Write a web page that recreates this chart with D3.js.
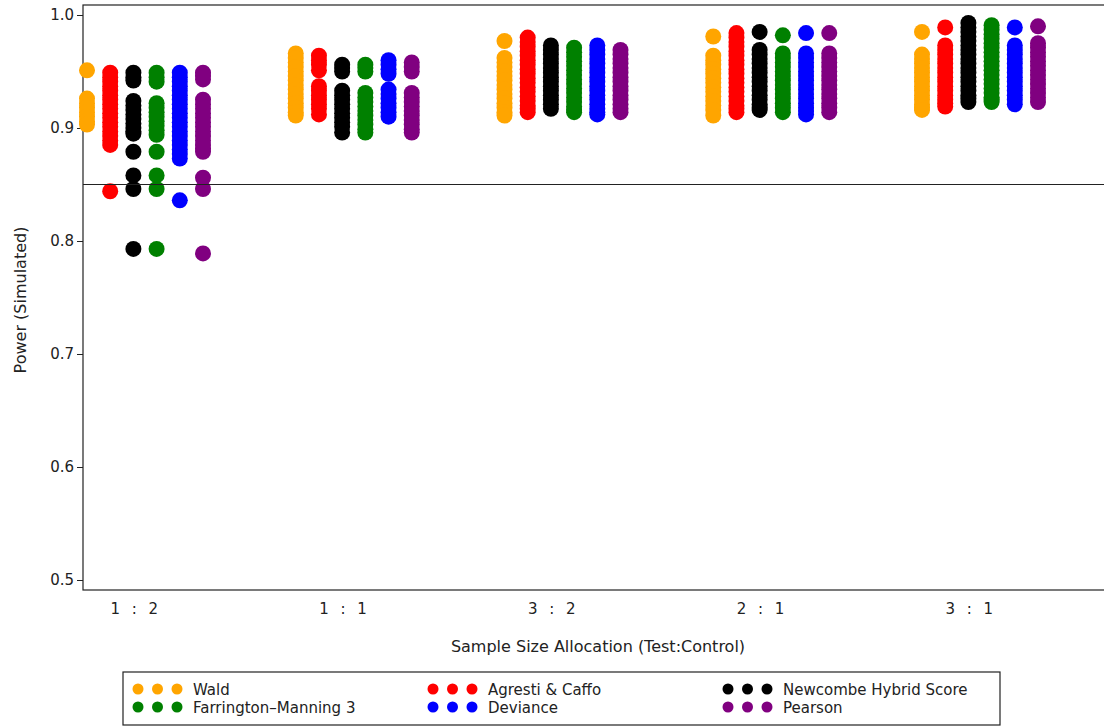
<!DOCTYPE html>
<html>
<head>
<meta charset="utf-8">
<script src="https://cdn.jsdelivr.net/npm/d3@7.9.0/dist/d3.min.js"></script>
<style>
  body { margin: 0; background: #fff; }
  svg { display: block; font-family: "DejaVu Sans", sans-serif; }
  text { fill: #222; }
</style>
</head>
<body>
<svg id="chart" width="1104" height="727"></svg>
<script>
// categories
const allocations = ['1 : 2', '1 : 1', '3 : 2', '2 : 1', '3 : 1'];
const methods = ['Wald', 'Agresti & Caffo', 'Newcombe Hybrid Score', 'Farrington–Manning 3', 'Deviance', 'Pearson'];
const colors = ['#FFA500', '#FF0000', '#000000', '#008000', '#0000FF', '#800080'];
const yTicks = [0.5, 0.6, 0.7, 0.8, 0.9, 1.0];
const target = 0.85;

// simulated power, one list per allocation
const wald = [
  [0.951, 0.926, 0.922, 0.918, 0.914, 0.910, 0.906, 0.903],
  [0.966, 0.962, 0.958, 0.954, 0.950, 0.946, 0.942, 0.938, 0.934, 0.930, 0.926, 0.922, 0.918, 0.914, 0.911],
  [0.977, 0.962, 0.958, 0.954, 0.950, 0.946, 0.942, 0.938, 0.934, 0.930, 0.926, 0.922, 0.918, 0.914, 0.911],
  [0.981, 0.964, 0.960, 0.956, 0.952, 0.948, 0.944, 0.940, 0.936, 0.932, 0.928, 0.924, 0.920, 0.916, 0.911],
  [0.985, 0.965, 0.961, 0.957, 0.953, 0.949, 0.945, 0.941, 0.937, 0.933, 0.929, 0.925, 0.921, 0.918, 0.916]
];
const agresti = [
  [0.949, 0.945, 0.941, 0.937, 0.933, 0.929, 0.925, 0.921, 0.917, 0.913, 0.909, 0.905, 0.901, 0.897, 0.893, 0.889, 0.885, 0.844],
  [0.964, 0.960, 0.956, 0.951, 0.937, 0.933, 0.929, 0.925, 0.921, 0.917, 0.912],
  [0.980, 0.976, 0.972, 0.968, 0.964, 0.960, 0.956, 0.952, 0.948, 0.944, 0.940, 0.936, 0.932, 0.928, 0.924, 0.920, 0.917, 0.914],
  [0.984, 0.980, 0.976, 0.972, 0.968, 0.964, 0.960, 0.956, 0.952, 0.948, 0.944, 0.940, 0.936, 0.932, 0.928, 0.924, 0.920, 0.917, 0.914],
  [0.989, 0.973, 0.969, 0.965, 0.961, 0.957, 0.953, 0.949, 0.945, 0.941, 0.937, 0.933, 0.929, 0.925, 0.922, 0.919]
];
const newcombe = [
  [0.949, 0.945, 0.942, 0.924, 0.920, 0.916, 0.912, 0.908, 0.904, 0.900, 0.897, 0.895, 0.879, 0.858, 0.846, 0.793],
  [0.956, 0.953, 0.950, 0.933, 0.929, 0.925, 0.921, 0.917, 0.913, 0.909, 0.905, 0.901, 0.896],
  [0.973, 0.969, 0.965, 0.961, 0.957, 0.953, 0.949, 0.945, 0.941, 0.937, 0.933, 0.929, 0.925, 0.921, 0.917],
  [0.985, 0.969, 0.965, 0.961, 0.957, 0.953, 0.949, 0.945, 0.941, 0.937, 0.933, 0.929, 0.925, 0.921, 0.918, 0.916],
  [0.993, 0.989, 0.985, 0.981, 0.977, 0.973, 0.969, 0.965, 0.961, 0.957, 0.953, 0.949, 0.945, 0.941, 0.937, 0.933, 0.929, 0.926, 0.923]
];
const farrington = [
  [0.949, 0.945, 0.941, 0.922, 0.918, 0.914, 0.910, 0.906, 0.902, 0.898, 0.894, 0.879, 0.858, 0.846, 0.793],
  [0.956, 0.953, 0.950, 0.931, 0.927, 0.923, 0.919, 0.915, 0.911, 0.907, 0.903, 0.899, 0.896],
  [0.971, 0.967, 0.963, 0.959, 0.955, 0.951, 0.947, 0.943, 0.939, 0.935, 0.931, 0.927, 0.923, 0.919, 0.916, 0.914],
  [0.982, 0.966, 0.962, 0.958, 0.954, 0.950, 0.946, 0.942, 0.938, 0.934, 0.930, 0.926, 0.922, 0.918, 0.914],
  [0.991, 0.987, 0.983, 0.979, 0.975, 0.971, 0.967, 0.963, 0.959, 0.955, 0.951, 0.947, 0.943, 0.939, 0.935, 0.931, 0.927, 0.925, 0.923]
];
const deviance = [
  [0.949, 0.945, 0.941, 0.937, 0.933, 0.929, 0.925, 0.921, 0.917, 0.913, 0.909, 0.905, 0.901, 0.897, 0.893, 0.889, 0.885, 0.881, 0.877, 0.873, 0.836],
  [0.960, 0.956, 0.952, 0.948, 0.934, 0.930, 0.926, 0.922, 0.918, 0.914, 0.910],
  [0.973, 0.969, 0.965, 0.961, 0.957, 0.953, 0.949, 0.945, 0.941, 0.937, 0.933, 0.929, 0.925, 0.921, 0.917, 0.914, 0.912],
  [0.984, 0.966, 0.962, 0.958, 0.954, 0.950, 0.946, 0.942, 0.938, 0.934, 0.930, 0.926, 0.922, 0.918, 0.915, 0.912],
  [0.989, 0.973, 0.969, 0.965, 0.961, 0.957, 0.953, 0.949, 0.945, 0.941, 0.937, 0.933, 0.929, 0.925, 0.921]
];
const pearson = [
  [0.949, 0.946, 0.943, 0.925, 0.921, 0.917, 0.913, 0.909, 0.905, 0.901, 0.897, 0.893, 0.889, 0.885, 0.882, 0.879, 0.856, 0.846, 0.789],
  [0.958, 0.954, 0.950, 0.931, 0.927, 0.923, 0.919, 0.915, 0.911, 0.907, 0.903, 0.899, 0.896],
  [0.969, 0.965, 0.961, 0.957, 0.953, 0.949, 0.945, 0.941, 0.937, 0.933, 0.929, 0.925, 0.921, 0.917, 0.914],
  [0.984, 0.966, 0.962, 0.958, 0.954, 0.950, 0.946, 0.942, 0.938, 0.934, 0.930, 0.926, 0.922, 0.918, 0.914],
  [0.990, 0.975, 0.971, 0.967, 0.963, 0.959, 0.955, 0.951, 0.947, 0.943, 0.939, 0.935, 0.931, 0.927, 0.923]
];
const series = [wald, agresti, newcombe, farrington, deviance, pearson];

let svg = d3.select('#chart');
let frameLeft = 83, frameTop = 5, frameBottom = 590, frameRight = 1110;

let x = d3.scalePoint().domain(allocations).range([145, 980]);
let offset = d3.scalePoint().domain(methods).range([-58, 58]);
let y = d3.scaleLinear().domain([0.5, 1.0]).range([580, 15]);

// frame
svg.append('rect')
  .attr('x', frameLeft).attr('y', frameTop)
  .attr('width', frameRight - frameLeft).attr('height', frameBottom - frameTop)
  .attr('fill', 'none').attr('stroke', '#222').attr('stroke-width', 1.2);

// y axis
let yAxis = svg.append('g')
  .attr('transform', `translate(${frameLeft},0)`)
  .call(d3.axisLeft(y).tickValues(yTicks).tickFormat(d3.format('.1f')).tickSize(6).tickPadding(3));
yAxis.select('.domain').remove();
yAxis.selectAll('line').attr('stroke', '#222');
yAxis.selectAll('text').attr('font-size', 15).attr('fill', '#222').attr('font-family', '"DejaVu Sans", sans-serif');

// x tick labels (no tick marks)
allocations.forEach((a) => {
  svg.append('text')
    .attr('x', x(a) - 9)
    .attr('y', 614)
    .attr('text-anchor', 'middle')
    .attr('font-size', 15)
    .attr('letter-spacing', 3.5)
    .text(a);
});

// axis titles
svg.append('text')
  .attr('x', 598).attr('y', 652)
  .attr('text-anchor', 'middle')
  .attr('font-size', 16)
  .text('Sample Size Allocation (Test:Control)');
svg.append('text')
  .attr('transform', 'translate(26,300) rotate(-90)')
  .attr('text-anchor', 'middle')
  .attr('font-size', 16)
  .text('Power (Simulated)');

// dots
let plot = svg.append('g');
series.forEach((s, m) => {
  s.forEach((vals, a) => {
    plot.selectAll(null)
      .data(vals)
      .enter()
      .append('circle')
      .attr('cx', x(allocations[a]) + offset(methods[m]))
      .attr('cy', (d) => y(d))
      .attr('r', 8)
      .attr('fill', colors[m]);
  });
});

// reference line
svg.append('line')
  .attr('x1', frameLeft).attr('x2', frameRight)
  .attr('y1', y(target)).attr('y2', y(target))
  .attr('stroke', '#222').attr('stroke-width', 1.2);

// legend
let legend = svg.append('g');
legend.append('rect')
  .attr('x', 123).attr('y', 672)
  .attr('width', 877).attr('height', 53)
  .attr('fill', 'none').attr('stroke', '#222').attr('stroke-width', 1.2);

let colX = [138, 433, 728];
let rowY = [689, 707];
methods.forEach((name, i) => {
  let cx = colX[i % 3];
  let cy = rowY[Math.floor(i / 3)];
  [0, 1, 2].forEach((k) => {
    legend.append('circle')
      .attr('cx', cx + k * 19.5)
      .attr('cy', cy)
      .attr('r', 5.5)
      .attr('fill', colors[i]);
  });
  legend.append('text')
    .attr('x', cx + 55)
    .attr('y', cy + 5.5)
    .attr('font-size', 15)
    .text(name);
});
</script>
</body>
</html>
